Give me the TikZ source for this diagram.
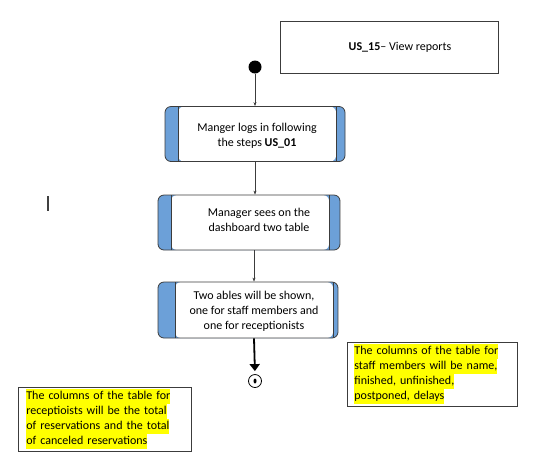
\documentclass[tikz,border=0pt]{standalone}
\usepackage{fontspec}
\setmainfont{Carlito}
\usetikzlibrary{arrows.meta,shapes.geometric}

\definecolor{barblue}{RGB}{108,160,216}
\definecolor{hlyellow}{RGB}{255,255,0}
\definecolor{edge}{RGB}{60,60,60}
\newcommand{\hlline}[1]{{\setlength{\fboxsep}{0pt}\colorbox{hlyellow}{\strut #1}}}

\begin{document}
\begin{tikzpicture}[x=1pt, y=-1pt, font=\fontsize{12}{15}\selectfont,
		stepbox/.style n args={2}{draw=edge, line width=0.8pt, rounded corners=6pt,
				minimum width=180pt, minimum height=55pt, inner sep=0pt,
				path picture={
						\fill[barblue] (path picture bounding box.south west) rectangle (path picture bounding box.north east);
						\fill[white] ([xshift=#1]path picture bounding box.south west) rectangle ([xshift=-#2]path picture bounding box.north east);
						\draw[edge, line width=0.8pt] ([xshift=#1]path picture bounding box.south west) -- ([xshift=#1]path picture bounding box.north west);
						\draw[edge, line width=0.8pt] ([xshift=-#2]path picture bounding box.south east) -- ([xshift=-#2]path picture bounding box.north east);
					}},
		steptext/.style={align=center, inner sep=0pt},
		notebox/.style={draw=edge, line width=0.8pt, align=left, anchor=north west, inner xsep=7pt, inner ysep=2pt, text width=156pt},
		flow/.style={draw=edge, line width=0.6pt, -{Stealth[length=4pt,width=3pt]}},
		bigflow/.style={draw=black, line width=1.8pt, -{Triangle[length=7pt,width=10pt]}, shorten >=3pt},
	]
	\useasboundingbox (0,0) rectangle (537,459);

	% title
	\node[draw=edge, line width=0.8pt, minimum width=218pt, minimum height=52pt] (title) at (389,47) {\raisebox{2pt}{\hspace*{22pt}\textbf{US\_15}– View reports}};

	% start and end
	\node[circle, fill=black, minimum size=13pt, inner sep=0pt] (start) at (255,67) {};
	\node[circle, draw=black, line width=0.8pt, minimum size=13pt, inner sep=0pt] (stop) at (255,381) {};
	\node[ellipse, fill=black, minimum width=3pt, minimum height=5pt, inner sep=0pt] (stopdot) at (stop) {};

	% steps
	\node[stepbox={13pt}{9pt}] (s1) at (255,134) {};
	\node[steptext] (t1) at (257,136) {Manger logs in following\\the steps \textbf{US\_01}};

	\node[stepbox={13pt}{11pt}, minimum width=182pt] (s2) at (249,222.5) {};
	\node[steptext] (t2) at (259,219.5) {Manager sees on the\\dashboard two table};

	\node[stepbox={17pt}{5pt}, minimum height=56pt] (s3) at (248,310) {};
	\node[steptext] (t3) at (254,311) {Two ables will be shown,\\one for staff members and\\one for receptionists};

	% notes
	\node[notebox] (staffnote) at (347,342) {\hlline{The columns of the table for}\\\hlline{staff members will be name,}\\\hlline{finished, unfinished,}\\\hlline{postponed, delays}};
	\node[notebox, text width=157pt, inner xsep=8pt] (recnote) at (18,387) {\hlline{The columns of the table for}\\\hlline{receptioists will be the total}\\\hlline{of reservations and the total}\\\hlline{of canceled reservations}};

	% flow
	\draw[flow] (start) -- (start |- s1.north);
	\draw[flow] (s1.south) -- (s1.south |- s2.north);
	\draw[flow] ([xshift=5pt]s2.south) -- ([xshift=5pt]s2.south |- s3.north);
	\draw[bigflow] ([xshift=6pt]s3.south) -- (stop.north);

	% stray mark
	\draw[black!75, line width=1.4pt] (48,196) -- (48,211);
\end{tikzpicture}
\end{document}
